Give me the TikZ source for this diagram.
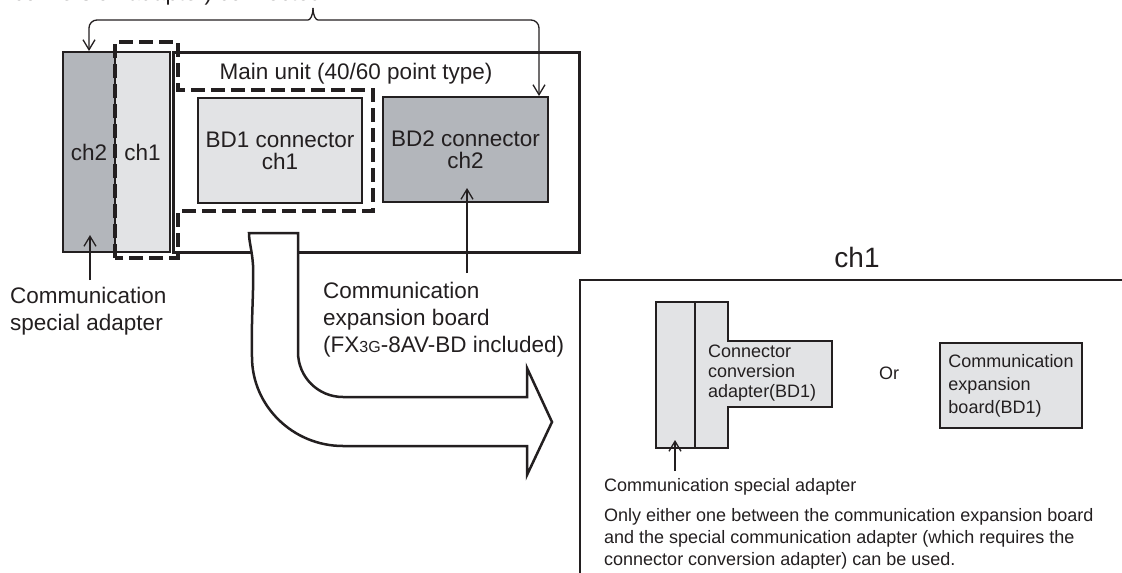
\documentclass[tikz,border=0pt]{standalone}
\usepackage{fontspec}
\setmainfont{Liberation Sans}
\usepackage{xcolor}
\definecolor{cLine}{HTML}{231F20}
\definecolor{cDark}{HTML}{B3B6BB}
\definecolor{cLight}{HTML}{E2E3E5}
\usepackage{tikz}
\usetikzlibrary{positioning,arrows.meta,calc}
\tikzset{
  txt-main/.style={font=\fontsize{22.5}{27}\selectfont,text=cLine,inner sep=0pt},
  txt-small/.style={font=\fontsize{18}{22}\selectfont,text=cLine,inner sep=0pt},
  txt-title/.style={font=\fontsize{28}{32}\selectfont,text=cLine,inner sep=0pt},
  slot-dark/.style={draw=cLine,line width=2pt,fill=cDark,inner sep=0pt,
    align=center,font=\fontsize{22.5}{22}\selectfont,text=cLine},
  slot-light/.style={slot-dark,fill=cLight},
  board-box/.style={draw=cLine,line width=2pt,fill=cLight,inner sep=0pt,
    align=left,font=\fontsize{18}{23}\selectfont,text=cLine},
  unit-frame/.style={draw=cLine,line width=3pt,inner sep=0pt},
  group-dash/.style={draw=cLine,line width=4.5pt,dash pattern=on 14pt off 6pt},
  conv-shape/.style={draw=cLine,line width=1.5pt,fill=cLight},
  panel-line/.style={draw=cLine,line width=2pt},
  arrow/.style={-{Straight Barb[length=10pt,width=12pt]},line width=1.3pt,draw=cLine},
  bent-arrow/.style={draw=cLine,line width=2.5pt,fill=white,line join=miter},
}

\begin{document}
\begin{tikzpicture}[x=1pt,y=-1pt]
  \useasboundingbox (0,0) rectangle (1122,573);
  \clip (0,0) rectangle (1122,573);
  % heading, cut by the top edge
  \node[txt-main,anchor=base west] (head) at (13,0) {conversion adapter) connected};
  % main unit and its two channels
  \node[slot-dark,minimum width=52pt,minimum height=200pt] (slot2) at (89,152) {ch2};
  \node[slot-light,minimum width=55pt,minimum height=200pt] (slot1) at (142.5,152) {ch1};
  \node[unit-frame,minimum width=406pt,minimum height=200pt] (unit) at (376,152) {};
  \node[txt-main,anchor=base] (unit-lbl) at (356,79) {Main unit (40/60 point type)};
  \node[slot-light,minimum width=164pt,minimum height=105pt] (bd1) at (280,150.5) {BD1 connector\\ch1};
  \node[slot-dark,minimum width=165pt,minimum height=105pt] (bd2) at (465.5,149.5) {BD2 connector\\ch2};
  \draw[group-dash] (115,258) -- (115,42) -- (178,42) -- (178,90) -- (373,90)
    -- (373,211) -- (178,211) -- (178,258) -- cycle;
  % bracket to both ch2 places
  \coordinate (brace) at (313,8);
  \draw[arrow,rounded corners=8pt] (brace) .. controls (313,16) and (310,20) .. (300,20)
    -| (slot2.north);
  \draw[arrow,rounded corners=8pt] (brace) .. controls (313,16) and (316,20) .. (326,20)
    -| ($(bd2.north east)+(-10,0)$);
  % pointers and labels below the unit
  \coordinate (csa-foot) at (90,280);
  \coordinate (csa-tip) at (90,235);
  \draw[arrow] (csa-foot) -- (csa-tip);
  \node[txt-main,anchor=west,align=left] (csa-lbl) at (10,311) {Communication\\special adapter};
  \coordinate (ceb-foot) at (467,273);
  \coordinate (ceb-tip) at (467,188);
  \draw[arrow] (ceb-foot) -- (ceb-tip);
  \node[txt-main,anchor=west,align=left] (ceb-lbl) at (323,320)
    {Communication\\expansion board\\(FX{\fontsize{16}{16}\selectfont 3G}-8AV-BD included)};
  % bent arrow to the ch1 panel
  \draw[bent-arrow] (249,233) -- (298,233) -- (298,352)
    .. controls (298,377) and (318,397) .. (343,397) -- (527,397) -- (527,368)
    -- (552,422) -- (527,475) -- (527,446) -- (343,446)
    .. controls (293,446) and (252,406) .. (252,357)
    .. controls (251,320) and (254,290) .. (253,265)
    .. controls (252,250) and (249,242) .. (249,233) -- cycle;
  % ch1 panel
  \coordinate (panel-corner) at (580,280);
  \draw[panel-line] (580,573) -- (panel-corner) -- (1122,280);
  \node[txt-title,anchor=base] (panel-title) at (857,267) {ch1};
  \draw[conv-shape] (695,302) -- (728,302) -- (728,341) -- (832,341) -- (832,407)
    -- (728,407) -- (728,448) -- (695,448) -- cycle;
  \node[slot-light,minimum width=39pt,minimum height=146pt] (spad) at (675.5,375) {};
  \node[txt-small,anchor=west,align=left,font=\fontsize{18}{20}\selectfont] (conv-lbl)
    at (708,373) {Connector\\conversion\\adapter(BD1)};
  \node[txt-small,anchor=base] (or-lbl) at (889,379.5) {Or};
  \node[board-box,minimum width=142pt,minimum height=85pt] (ceb1) at (1011,385.5)
    {Communication\\expansion\\board(BD1)};
  \coordinate (spad-foot) at (675,471);
  \coordinate (spad-tip) at (675,440);
  \draw[arrow] (spad-foot) -- (spad-tip);
  \node[txt-small,anchor=base west] (spad-lbl) at (604,491) {Communication special adapter};
  \node[txt-small,anchor=west,align=left] (note) at (604,539)
    {Only either one between the communication expansion board\\
     and the special communication adapter (which requires the\\
     connector conversion adapter) can be used.};
\end{tikzpicture}
\end{document}
